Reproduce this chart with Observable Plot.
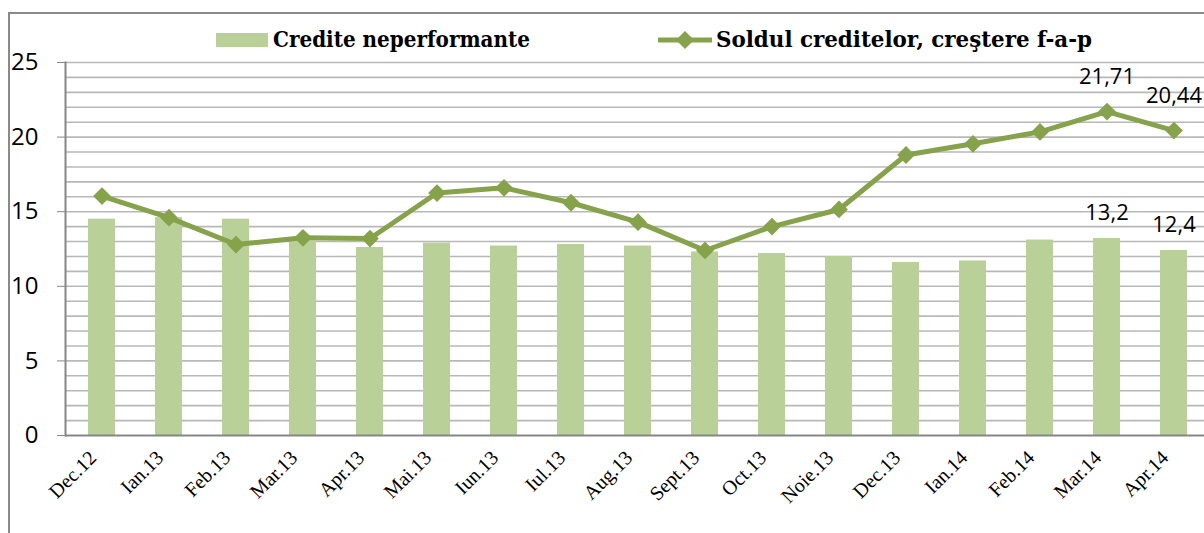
<!DOCTYPE html>
<html><head><meta charset="utf-8">
<script src="https://cdn.jsdelivr.net/npm/d3@7"></script>
<script src="https://cdn.jsdelivr.net/npm/@observablehq/plot@0.6"></script>
<style>
body{margin:0;background:#fff;}
#wrap{position:relative;width:1204px;height:533px;overflow:hidden;background:#fff;}
#frame{position:absolute;left:8px;top:12px;width:1300px;height:600px;border-left:2px solid #8a8a8a;border-top:2px solid #8a8a8a;}
#chart{position:absolute;left:0;top:50px;width:1210px;}
#legend{position:absolute;left:0;top:0;overflow:visible;}
</style></head><body>
<div id="wrap"><div id="frame"></div><div id="chart"></div><svg id="legend" width="1204" height="60"></svg></div>
<script>
const months = ["Dec.12","Ian.13","Feb.13","Mar.13","Apr.13","Mai.13","Iun.13","Iul.13","Aug.13","Sept.13","Oct.13","Noie.13","Dec.13","Ian.14","Feb.14","Mar.14","Apr.14"];
const nplValues = [14.5,14.6,14.5,13.0,12.6,12.9,12.7,12.8,12.7,12.3,12.2,12.0,11.6,11.7,13.1,13.2,12.4];
const creditGrowth = [16.05,14.6,12.8,13.25,13.2,16.25,16.6,15.6,14.3,12.4,14.0,15.15,18.8,19.55,20.35,21.71,20.44];
const yTicks = [0,5,10,15,20,25];
const gridValues = d3.range(1,26);
const labelledMonths = ["Mar.14","Apr.14"];
const seriesNames = ["Credite neperformante","Soldul creditelor, creştere f-a-p"];

const barColor = "#b9d098";
const lineColor = "#86a24a";

// legend
const leg = d3.select("#legend");
const legFont = "'DejaVu Serif Condensed','DejaVu Serif',serif";
leg.append("rect").attr("x",216).attr("y",33).attr("width",52).attr("height",14).attr("fill",barColor);
leg.append("text").attr("x",273).attr("y",47)
  .attr("font-family",legFont).attr("font-weight","bold").attr("font-size",22)
  .attr("textLength",257).attr("lengthAdjust","spacingAndGlyphs").text(seriesNames[0]);
leg.append("line").attr("x1",658).attr("x2",712).attr("y1",40).attr("y2",40).attr("stroke",lineColor).attr("stroke-width",5);
leg.append("path").attr("d","M685,31L694,40L685,49L676,40Z").attr("fill",lineColor);
leg.append("text").attr("x",716).attr("y",47)
  .attr("font-family",legFont).attr("font-weight","bold").attr("font-size",22)
  .attr("textLength",376).attr("lengthAdjust","spacingAndGlyphs").text(seriesNames[1]);

const data = months.map((m,i)=>({month:m, npl:nplValues[i], growth:creditGrowth[i]}));
const labelled = data.filter(d=>labelledMonths.includes(d.month));
const fmt = v => String(v).replace(".", ",");

const chart = Plot.plot({
  width:1210, height:483, marginLeft:65, marginRight:1, marginTop:12, marginBottom:98,
  style:{background:"transparent", overflow:"visible", maxWidth:"none"},
  x:{domain:months, paddingInner:0.6, paddingOuter:0.3, label:null},
  y:{domain:[0,25], label:null},
  marks:[
    Plot.ruleY(gridValues, {stroke:"#b8b8b8", strokeWidth:1.6}),
    Plot.barY(data,{x:"month", y:"npl", fill:barColor}),
    Plot.ruleY([0],{stroke:"#868686", strokeWidth:2}),
    Plot.frame({anchor:"left", stroke:"#868686", strokeWidth:2}),
    Plot.axisY({ticks:yTicks, tickSize:8, tickPadding:19, stroke:"#868686", fill:"#000", fontSize:24, fontFamily:"'Open Sans',sans-serif", label:null}),
    Plot.axisX({tickSize:0, tickRotate:-45, tickPadding:19, dx:-9, fill:"#000", fontSize:20, fontFamily:"'Liberation Serif',serif", label:null}),
    Plot.line(data,{x:"month", y:"growth", stroke:lineColor, strokeWidth:5}),
    Plot.dot(data,{x:"month", y:"growth", symbol:"diamond2", r:8, fill:lineColor, stroke:null}),
    Plot.text(labelled,{x:"month", y:"growth", text:d=>fmt(d.growth), dy:-35, fontSize:22, fontFamily:"'Open Sans',sans-serif", fill:"#000"}),
    Plot.text(labelled,{x:"month", y:"npl", text:d=>fmt(d.npl), dy:-26, fontSize:22, fontFamily:"'Open Sans',sans-serif", fill:"#000"})
  ]
});
document.getElementById("chart").appendChild(chart);
</script>
</body></html>
